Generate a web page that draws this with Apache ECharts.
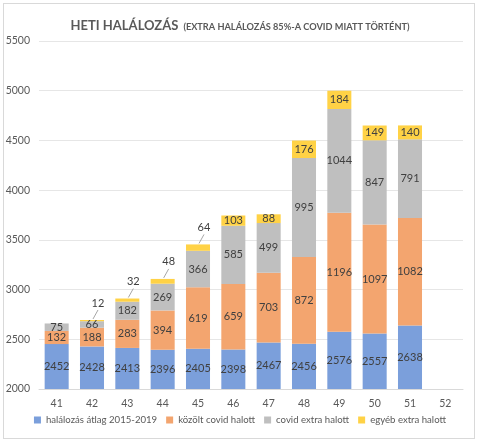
<!DOCTYPE html>
<html><head><meta charset="utf-8">
<script src="https://cdn.jsdelivr.net/npm/echarts@6/dist/echarts.min.js"></script>
<style>html,body{margin:0;padding:0;background:#fff}#c{width:480px;height:444px}
#f{position:absolute;left:3px;top:3px;width:472px;height:436px;border:1px solid #d9d9d9;box-sizing:border-box;pointer-events:none}</style>
</head><body><div id="c"></div><div id="f"></div>
<script>
const categories = ['41','42','43','44','45','46','47','48','49','50','51','52'];
const atlag = [2452,2428,2413,2396,2405,2398,2467,2456,2576,2557,2638,null];
const kozolt = [132,188,283,394,619,659,703,872,1196,1097,1082,null];
const covidExtra = [75,66,182,269,366,585,499,995,1044,847,791,null];
const egyeb = [null,12,32,48,64,103,88,176,184,149,140,null];
const seriesNames = ['halálozás átlag 2015-2019','közölt covid halott','covid extra halott','egyéb extra halott'];
const colors = ['#7b9fdb','#f3a56f','#bfbfbf','#ffd246'];
const FONT = 'Lato';
const SMALL = 80;
const chart = echarts.init(document.getElementById('c'));
const lbl = {show:true, position:'inside', color:'#404040', fontSize:11, fontFamily:FONT};
function mk(name, data, i){
  return {name, type:'bar', stack:'t', data, barWidth:'68%', itemStyle:{color:colors[i]}, label:lbl, emphasis:{disabled:true}};
}
const s4 = mk(seriesNames[3], egyeb.map(v => v == null ? null : (v < SMALL ? {value:v, label:{show:false}} : v)), 3);
// leader-line labels for the small top segments
const calloutData = [];
egyeb.forEach((v, i) => {
  if (v != null && v < SMALL) calloutData.push([i, atlag[i] + kozolt[i] + covidExtra[i] + v, v]);
});
const callouts = {
  type:'custom', silent:true, z:5, data:calloutData,
  renderItem:function(params, api){
    const p = api.coord([api.value(0), api.value(1)]);
    return {type:'group', children:[
      {type:'line', shape:{x1:p[0]+1, y1:p[1]-1, x2:p[0]+6, y2:p[1]-10}, style:{stroke:'#a6a6a6', lineWidth:1}},
      {type:'text', x:p[0]+6, y:p[1]-17, style:{text:String(api.value(2)), fill:'#404040', font:'11px '+FONT, align:'center', verticalAlign:'middle'}}
    ]};
  }
};
chart.setOption({
  animation:false,
  title:{text:'{a|HETI HALÁLOZÁS} {b|(EXTRA HALÁLOZÁS 85%-A COVID MIATT TÖRTÉNT)}', left:'center', top:12,
    textStyle:{rich:{a:{fontSize:13,fontWeight:'bold',color:'#595959',fontFamily:FONT},b:{fontSize:9.2,fontWeight:'bold',color:'#595959',fontFamily:FONT,padding:[2,0,0,0]}}}},
  legend:{bottom:14, left:'center', width:470, itemWidth:7, itemHeight:7, itemGap:9, icon:'rect',
    textStyle:{fontSize:9.6, color:'#595959', fontFamily:FONT}, data:seriesNames},
  grid:{left:39, right:17, top:41, bottom:55},
  xAxis:{type:'category', data:categories, axisTick:{show:false}, axisLine:{lineStyle:{color:'#d9d9d9', width:1}},
    axisLabel:{color:'#595959', fontSize:10.5, fontFamily:FONT, margin:9}},
  yAxis:{type:'value', min:2000, max:5500, interval:500,
    axisLabel:{color:'#595959', fontSize:10.5, fontFamily:FONT, margin:9, formatter:v => String(v)},
    splitLine:{lineStyle:{color:'#e6e6e6'}}, axisLine:{show:false}},
  series:[mk(seriesNames[0], atlag, 0), mk(seriesNames[1], kozolt, 1), mk(seriesNames[2], covidExtra, 2), s4, callouts]
});
</script></body></html>
